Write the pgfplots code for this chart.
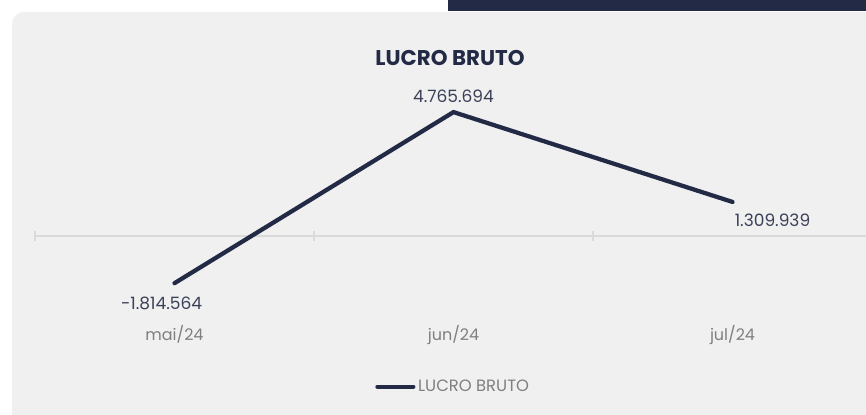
\documentclass[border=0pt]{standalone}
\usepackage{pgfplots}
\pgfplotsset{compat=1.18}
\usepackage{fontspec}
\setmainfont{Poppins}
\definecolor{navy}{HTML}{222A45}
\definecolor{panel}{HTML}{F0F0F0}
\definecolor{zl}{HTML}{DADADA}
\definecolor{lbl}{HTML}{3B4157}
\definecolor{cat}{HTML}{7F7F7F}
\begin{document}
\begin{tikzpicture}
\useasboundingbox (0pt,0pt) rectangle (649.5pt,310.5pt);
\clip (0pt,0pt) rectangle (649.5pt,310.5pt);
\fill[white] (0pt,0pt) rectangle (649.5pt,310.5pt);
\fill[navy] (336pt,302.6pt) rectangle (660pt,320pt);
\fill[panel, rounded corners=9pt] (9pt,301.5pt) rectangle (675pt,-22pt);
\node[font=\bfseries\fontsize{16}{18}\selectfont, text=navy] at (337.5pt,267pt) {LUCRO BRUTO};
\begin{axis}[at={(26.25pt,71.1pt)}, anchor=south west, scale only axis,
  width=627.75pt, height=179.4pt,
  xmin=-0.5, xmax=2.5, ymin=-3200000, ymax=6000000,
  axis line style={draw=none}, ytick=\empty,
  xtick={0,1,2}, xticklabels={mai/24,jun/24,jul/24},
  major tick length=0pt,
  xticklabel style={font=\fontsize{12}{14}\selectfont, text=cat, anchor=base, yshift=-15.75pt},
  clip=false,
  legend style={at={(0.5,-0.282)}, anchor=center, draw=none, fill=none,
    font=\fontsize{12.3}{14}\selectfont, text=cat},
  legend image code/.code={\draw[navy, line width=3.1pt, line cap=round] (0pt,0pt) -- (27pt,0pt);},
]
\draw[zl, line width=1.5pt] (axis cs:-0.5,0) -- (axis cs:2.5,0);
\draw[zl, line width=1.2pt] ([yshift=-4pt]axis cs:-0.5,0) -- ([yshift=4pt]axis cs:-0.5,0);
\draw[zl, line width=1.2pt] ([yshift=-4pt]axis cs:0.5,0) -- ([yshift=4pt]axis cs:0.5,0);
\draw[zl, line width=1.2pt] ([yshift=-4pt]axis cs:1.5,0) -- ([yshift=4pt]axis cs:1.5,0);
\draw[zl, line width=1.2pt] ([yshift=-4pt]axis cs:2.5,0) -- ([yshift=4pt]axis cs:2.5,0);
\addplot[navy, line width=3.2pt, line cap=round, line join=miter] coordinates {(0,-1814564) (1,4765694) (2,1309939)};
\addlegendentry{LUCRO BRUTO}
\node[font=\fontsize{12.75}{15}\selectfont, text=lbl, xshift=-9.75pt, yshift=-15.5pt] at (axis cs:0,-1814564) {-1.814.564};
\node[font=\fontsize{12.75}{15}\selectfont, text=lbl, yshift=12pt] at (axis cs:1,4765694) {4.765.694};
\node[font=\fontsize{12.75}{15}\selectfont, text=lbl, xshift=30pt, yshift=-13.5pt] at (axis cs:2,1309939) {1.309.939};
\end{axis}
\end{tikzpicture}
\end{document}
